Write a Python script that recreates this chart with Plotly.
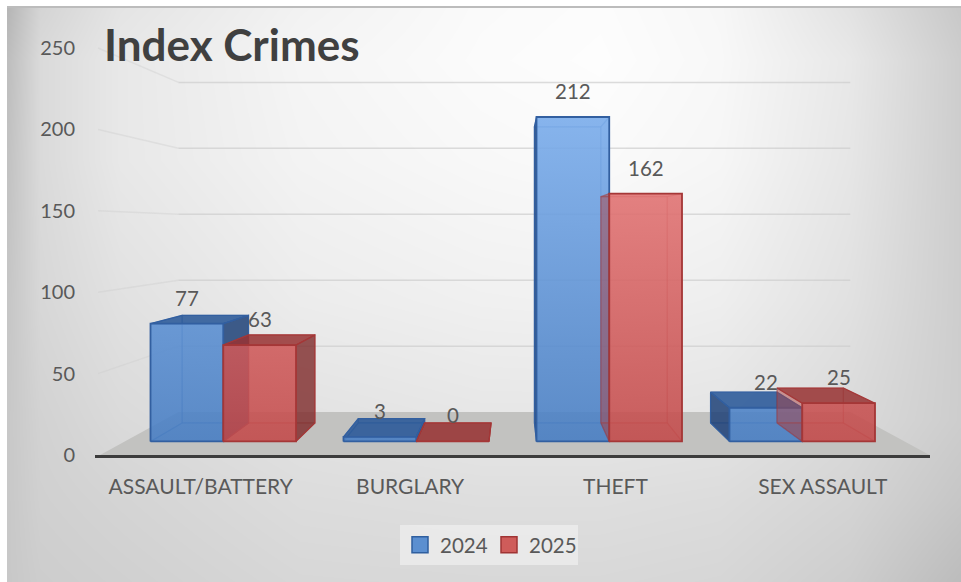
import plotly.graph_objects as go

# Chart data
categories = ["ASSAULT/BATTERY", "BURGLARY", "THEFT", "SEX ASSAULT"]
category_ticks = [-0.02, 1, 2, 3.01]
values_2024 = [77, 3, 212, 22]
values_2025 = [63, 0, 162, 25]
value_ticks = [0, 50, 100, 150, 200, 250]

# Backdrop grey levels on a coarse grid
bg_x = [8, 40, 120, 300, 480, 600, 720, 850, 961]
bg_y = [7, 60, 160, 300, 420, 500, 582]
bg_grey = [
    [182, 212, 228, 242, 250, 252, 247, 226, 200],
    [190, 218, 232, 245, 251, 253, 248, 232, 205],
    [194, 218, 232, 243, 248, 250, 246, 230, 205],
    [198, 215, 225, 236, 240, 241, 238, 225, 205],
    [200, 210, 218, 226, 230, 230, 228, 218, 205],
    [200, 208, 212, 220, 222, 222, 220, 212, 198],
    [200, 205, 208, 215, 216, 216, 214, 205, 188],
]

# Perspective set-up, expressed in axis units
VANISH_X = 1.5
VANISH_V = 138.8
S_BAR_FRONT = 0.94
S_BAR_BACK = 0.858
S_WALL = 0.81
BAR_W = 0.377
FLOOR_L, FLOOR_R = -0.51, 3.53
WALL_L = -0.52

TEXT_DARK = "#404040"
TEXT = "#595959"


def project(x, v, s):
    return VANISH_X + (x - VANISH_X) * s, VANISH_V + (v - VANISH_V) * s


def polygon(corners):
    pts = [project(*c) for c in corners]
    pts.append(pts[0])
    return [p[0] for p in pts], [p[1] for p in pts]


fig = go.Figure()

# Full-page grey backdrop
fig.add_trace(go.Heatmap(
    x=bg_x, y=bg_y, z=bg_grey, zmin=0, zmax=255, zsmooth="best",
    colorscale=[[0, "rgb(0,0,0)"], [1, "rgb(255,255,255)"]],
    showscale=False, hoverinfo="skip", xaxis="x", yaxis="y",
))

# Floor
fx, fy = polygon([(FLOOR_L, 0, 1), (FLOOR_R, 0, 1), (FLOOR_R, 0, S_WALL), (FLOOR_L, 0, S_WALL)])
fig.add_trace(go.Scatter(x=fx, y=fy, mode="lines", fill="toself", fillcolor="#c2c2c0",
                         line=dict(width=0), hoverinfo="skip", showlegend=False,
                         xaxis="x2", yaxis="y2"))

# Gridlines: faint on the side wall, a little stronger on the back wall
side_x, side_y, back_x, back_y = [], [], [], []
for t in value_ticks[1:]:
    a = project(WALL_L, t, 1)
    b = project(FLOOR_L, t, S_WALL)
    c = project(FLOOR_R, t, S_WALL)
    side_x += [a[0], b[0], None]
    side_y += [a[1], b[1], None]
    back_x += [b[0], c[0], None]
    back_y += [b[1], c[1], None]
fig.add_trace(go.Scatter(x=side_x, y=side_y, mode="lines", line=dict(color="rgba(205,205,205,0.4)", width=1.5),
                         hoverinfo="skip", showlegend=False, xaxis="x2", yaxis="y2"))
fig.add_trace(go.Scatter(x=back_x, y=back_y, mode="lines", line=dict(color="rgba(205,205,205,0.7)", width=1.5),
                         hoverinfo="skip", showlegend=False, xaxis="x2", yaxis="y2"))


def add_bar(x0, x1, v, style, left_over_neighbour=False):
    n, f = S_BAR_FRONT, S_BAR_BACK
    centre = (x0 + x1) / 2
    # The wall nearer the vanishing point shows outside the front face; the other is seen through it
    left_outer = centre > VANISH_X and not left_over_neighbour
    right_outer = centre < VANISH_X
    # A bar taller than the eye line shows the underside of its top
    top_outer = v < VANISH_V
    faces = [
        ([(x0, 0, f), (x1, 0, f), (x1, 0, n), (x0, 0, n)], style["floor"], style["edge_soft"]),
        ([(x0, 0, f), (x1, 0, f), (x1, v, f), (x0, v, f)], style["back"], style["edge_soft"]),
        ([(x0, 0, n), (x0, 0, f), (x0, v, f), (x0, v, n)],
         style["side"] if left_outer else style["inner"], style["edge"] if left_outer else style["edge_soft"]),
        ([(x1, 0, n), (x1, 0, f), (x1, v, f), (x1, v, n)],
         style["side"] if right_outer else style["inner"], style["edge"] if right_outer else style["edge_soft"]),
        ([(x0, v, n), (x1, v, n), (x1, v, f), (x0, v, f)],
         style["top"] if top_outer else style["inner"], style["edge"] if top_outer else style["edge_soft"]),
    ]
    for corners, color, edge in faces:
        px, py = polygon(corners)
        fig.add_trace(go.Scatter(x=px, y=py, mode="lines", fill="toself", fillcolor=color,
                                 line=dict(color=edge, width=1.2), hoverinfo="skip",
                                 showlegend=False, xaxis="x2", yaxis="y2"))
    px, py = polygon([(x0, 0, n), (x1, 0, n), (x1, v, n), (x0, v, n)])
    fig.add_trace(go.Scatter(
        x=px, y=py, mode="lines", fill="toself",
        fillgradient=dict(type="vertical", start=0, stop=215,
                          colorscale=[[0, style["front_low"]], [1, style["front_high"]]]),
        line=dict(color=style["edge"], width=1.8), hoverinfo="skip",
        showlegend=False, xaxis="x2", yaxis="y2"))


blue = dict(side="rgba(28,62,115,0.78)", inner="rgba(50,100,175,0.30)", floor="rgba(50,100,175,0.35)",
            back="rgba(45,95,165,0.30)", top="rgba(38,85,150,0.80)",
            edge="rgb(50,95,160)", edge_soft="rgba(50,95,160,0.35)",
            front_low="rgba(70,125,195,0.82)", front_high="rgba(128,178,240,0.86)")
red = dict(side="rgba(120,40,40,0.72)", inner="rgba(170,60,60,0.28)", floor="rgba(170,60,60,0.35)",
           back="rgba(180,70,70,0.30)", top="rgba(150,50,50,0.80)",
           edge="rgb(165,55,55)", edge_soft="rgba(165,55,55,0.30)",
           front_low="rgba(195,72,72,0.82)", front_high="rgba(238,132,132,0.86)")

# Each 2025 bar stands in front of the 2024 bar beside it
for i in range(len(categories)):
    add_bar(i - BAR_W, i, values_2024[i], blue)
    add_bar(i, i + BAR_W, values_2025[i], red, left_over_neighbour=True)

# Legend entries
for name, fill, edge in (("2024", "#5b8fd0", "#2f5f9f"), ("2025", "#cf5c5a", "#a03434")):
    fig.add_trace(go.Scatter(x=[None], y=[None], mode="markers", name=name,
                             marker=dict(symbol="square", size=16, color=fill, line=dict(color=edge, width=1.5)),
                             xaxis="x2", yaxis="y2"))

# Value labels sit a fixed distance above each bar's front top edge
annotations = []
for i in range(len(categories)):
    for x_mid, v in ((i - BAR_W / 2, values_2024[i]), (i + BAR_W / 2, values_2025[i])):
        ax, ay = project(x_mid, v, S_BAR_FRONT)
        annotations.append(dict(x=ax, y=ay, xref="x2", yref="y2", text=str(v), showarrow=False,
                                yshift=26, yanchor="middle", xanchor="center",
                                font=dict(family="Lato", size=20.5, color=TEXT)))

W, H = 961, 582
PX_X0, PX_UNIT = 204.8, 205.3
PX_LEFT, PX_RIGHT = 95, 930
PX_AXIS, PX_PER_VALUE = 455, 1.628
PX_TOP = 30

fig.update_layout(
    width=W, height=H, autosize=False, margin=dict(l=0, r=0, t=0, b=0, autoexpand=False),
    paper_bgcolor="white", plot_bgcolor="rgba(0,0,0,0)",
    title=dict(text="<b>Index Crimes</b>", x=104 / W, y=1 - 46 / H, xanchor="left", yanchor="middle",
               xref="paper", yref="paper", font=dict(family="Lato", size=44, color=TEXT_DARK)),
    xaxis=dict(domain=[0, 1], range=[0, W], visible=False, fixedrange=True),
    yaxis=dict(domain=[0, 1], range=[H, 0], visible=False, fixedrange=True),
    xaxis2=dict(domain=[PX_LEFT / W, PX_RIGHT / W], anchor="y2", showgrid=False, zeroline=False,
                range=[(PX_LEFT - PX_X0) / PX_UNIT, (PX_RIGHT - PX_X0) / PX_UNIT],
                tickmode="array", tickvals=category_ticks, ticktext=categories,
                showline=True, linecolor="#3c3c3c", linewidth=3, ticks="", ticklabelstandoff=11,
                tickfont=dict(family="Lato", size=21, color=TEXT)),
    yaxis2=dict(domain=[1 - PX_AXIS / H, 1 - PX_TOP / H], anchor="x2", showgrid=False, zeroline=False,
                range=[0, (PX_AXIS - PX_TOP) / PX_PER_VALUE], tickmode="array", tickvals=value_ticks,
                showline=False, ticks="", ticklabelstandoff=19,
                tickfont=dict(family="Lato", size=20, color=TEXT)),
    legend=dict(orientation="h", x=489 / W, xanchor="center", y=1 - 545 / H, yanchor="middle",
                bgcolor="rgba(240,240,240,0.7)", font=dict(family="Lato", size=20.5, color=TEXT),
                itemwidth=30, entrywidth=44, itemclick=False, itemdoubleclick=False),
    annotations=annotations,
    shapes=[
        # White margin along the top and left of the page
        dict(type="rect", xref="paper", yref="paper", x0=0, x1=7 / W, y0=0, y1=1,
             fillcolor="white", line=dict(width=0)),
        dict(type="rect", xref="paper", yref="paper", x0=0, x1=1, y0=1 - 6 / H, y1=1,
             fillcolor="white", line=dict(width=0)),
        dict(type="line", xref="paper", yref="paper", x0=7 / W, x1=1, y0=1 - 7 / H, y1=1 - 7 / H,
             line=dict(color="#bcbcbc", width=2)),
    ],
)

fig.write_html("out.html", config={"responsive": False}, default_width="961px", default_height="582px")
